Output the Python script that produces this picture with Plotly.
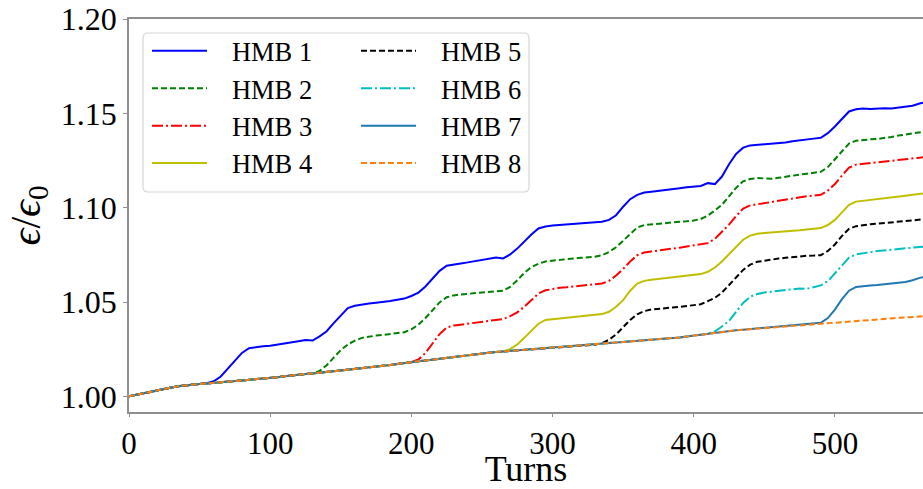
import plotly.graph_objects as go

# Turn grid shared by every curve (one sample every 5 turns)
turns = list(range(0, 566, 5))

# Slow common growth of the emittance ratio (also the HMB 8 curve)
baseline = [
    1.0000, 1.0008, 1.0016, 1.0027, 1.0035, 1.0040, 1.0047, 1.0054, 1.0059, 1.0064,
    1.0066, 1.0068, 1.0071, 1.0075, 1.0077, 1.0080, 1.0082, 1.0086, 1.0089, 1.0093,
    1.0097, 1.0101, 1.0106, 1.0111, 1.0116, 1.0119, 1.0121, 1.0125, 1.0127, 1.0131,
    1.0136, 1.0140, 1.0144, 1.0147, 1.0151, 1.0155, 1.0160, 1.0166, 1.0171, 1.0177,
    1.0181, 1.0186, 1.0190, 1.0195, 1.0199, 1.0203, 1.0209, 1.0213, 1.0218, 1.0223,
    1.0227, 1.0231, 1.0235, 1.0238, 1.0241, 1.0243, 1.0245, 1.0247, 1.0250, 1.0253,
    1.0256, 1.0259, 1.0262, 1.0265, 1.0268, 1.0271, 1.0274, 1.0277, 1.0280, 1.0283,
    1.0286, 1.0289, 1.0292, 1.0295, 1.0297, 1.0300, 1.0303, 1.0307, 1.0312, 1.0317,
    1.0322, 1.0327, 1.0332, 1.0338, 1.0343, 1.0347, 1.0350, 1.0353, 1.0356, 1.0359,
    1.0362, 1.0365, 1.0368, 1.0371, 1.0374, 1.0377, 1.0380, 1.0383, 1.0386, 1.0389,
    1.0392, 1.0395, 1.0397, 1.0400, 1.0403, 1.0405, 1.0408, 1.0411, 1.0413, 1.0416,
    1.0418, 1.0420, 1.0423, 1.0426,
]

# Each HMB curve after it leaves the common growth (runs to the last turn)
hmb1 = [
    1.0069, 1.0080, 1.0105, 1.0145, 1.0190, 1.0230, 1.0255, 1.0262, 1.0265,
    1.0268, 1.0273, 1.0279, 1.0285, 1.0292, 1.0298, 1.0296, 1.0318, 1.0345, 1.0388,
    1.0430, 1.0468, 1.0480, 1.0487, 1.0492, 1.0496, 1.0500, 1.0505, 1.0512, 1.0518,
    1.0532, 1.0550, 1.0582, 1.0625, 1.0665, 1.0692, 1.0700, 1.0704, 1.0710, 1.0716,
    1.0722, 1.0730, 1.0736, 1.0731, 1.0752, 1.0783, 1.0822, 1.0858, 1.0890, 1.0900,
    1.0905, 1.0908, 1.0910, 1.0912, 1.0914, 1.0917, 1.0922, 1.0925, 1.0935, 1.0960,
    1.1005, 1.1045, 1.1068, 1.1080, 1.1084, 1.1088, 1.1092, 1.1097, 1.1103, 1.1108,
    1.1110, 1.1115, 1.1130, 1.1125, 1.1165, 1.1230, 1.1285, 1.1318, 1.1330, 1.1333,
    1.1335, 1.1337, 1.1340, 1.1345, 1.1352, 1.1358, 1.1362, 1.1366, 1.1370, 1.1395,
    1.1430, 1.1470, 1.1510, 1.1522, 1.1525, 1.1523, 1.1526, 1.1527, 1.1526, 1.1530,
    1.1534, 1.1540, 1.1552, 1.1560,
]
hmb2 = [
    1.0122, 1.0135, 1.0165, 1.0205,
    1.0245, 1.0275, 1.0295, 1.0310, 1.0318, 1.0322, 1.0326, 1.0330, 1.0334, 1.0340,
    1.0355, 1.0380, 1.0415, 1.0458, 1.0498, 1.0525, 1.0535, 1.0540, 1.0544, 1.0548,
    1.0552, 1.0555, 1.0557, 1.0560, 1.0580, 1.0615, 1.0655, 1.0685, 1.0703, 1.0715,
    1.0720, 1.0724, 1.0728, 1.0731, 1.0734, 1.0737, 1.0740, 1.0748, 1.0765, 1.0790,
    1.0825, 1.0865, 1.0895, 1.0908, 1.0912, 1.0914, 1.0918, 1.0922, 1.0925, 1.0928,
    1.0932, 1.0940, 1.0958, 1.0985, 1.1015, 1.1060, 1.1105, 1.1140, 1.1152, 1.1157,
    1.1155, 1.1153, 1.1158, 1.1165, 1.1170, 1.1175, 1.1180, 1.1185, 1.1190, 1.1215,
    1.1255, 1.1300, 1.1340, 1.1355, 1.1360, 1.1362, 1.1364, 1.1368, 1.1375, 1.1382,
    1.1388, 1.1395, 1.1400, 1.1405,
]
hmb3 = [
    1.0182, 1.0195, 1.0230, 1.0280, 1.0330, 1.0365, 1.0375, 1.0380, 1.0385, 1.0390,
    1.0395, 1.0400, 1.0404, 1.0410, 1.0425, 1.0445, 1.0475, 1.0510, 1.0545, 1.0562,
    1.0570, 1.0575, 1.0578, 1.0582, 1.0585, 1.0588, 1.0592, 1.0598, 1.0612, 1.0640,
    1.0675, 1.0715, 1.0748, 1.0762, 1.0768, 1.0772, 1.0778, 1.0783, 1.0788, 1.0793,
    1.0798, 1.0803, 1.0812, 1.0835, 1.0870, 1.0910, 1.0955, 1.0995, 1.1012, 1.1018,
    1.1025, 1.1032, 1.1038, 1.1045, 1.1050, 1.1055, 1.1060, 1.1064, 1.1068, 1.1090,
    1.1125, 1.1170, 1.1212, 1.1228, 1.1232, 1.1235, 1.1238, 1.1242, 1.1246, 1.1250,
    1.1255, 1.1258, 1.1265, 1.1270,
]
hmb4 = [
    1.0238, 1.0250, 1.0275, 1.0310, 1.0350, 1.0385, 1.0405,
    1.0410, 1.0414, 1.0418, 1.0421, 1.0424, 1.0427, 1.0430, 1.0436, 1.0448, 1.0475,
    1.0510, 1.0560, 1.0598, 1.0612, 1.0618, 1.0622, 1.0626, 1.0630, 1.0634, 1.0638,
    1.0642, 1.0648, 1.0660, 1.0683, 1.0715, 1.0755, 1.0795, 1.0830, 1.0852, 1.0862,
    1.0866, 1.0868, 1.0870, 1.0873, 1.0876, 1.0880, 1.0884, 1.0888, 1.0892, 1.0908,
    1.0935, 1.0975, 1.1015, 1.1032, 1.1036, 1.1040, 1.1044, 1.1048, 1.1053, 1.1058,
    1.1063, 1.1068, 1.1073, 1.1078,
]
hmb5 = [
    1.0274, 1.0282, 1.0300, 1.0328,
    1.0365, 1.0405, 1.0435, 1.0452, 1.0460, 1.0465, 1.0468, 1.0471, 1.0474, 1.0478,
    1.0482, 1.0488, 1.0505, 1.0522, 1.0550, 1.0588, 1.0630, 1.0670, 1.0698, 1.0713,
    1.0720, 1.0725, 1.0730, 1.0734, 1.0738, 1.0742, 1.0745, 1.0746, 1.0748, 1.0770,
    1.0805, 1.0850, 1.0888, 1.0902, 1.0908, 1.0912, 1.0915, 1.0919, 1.0923, 1.0927,
    1.0930, 1.0934, 1.0937, 1.0940,
]
hmb6 = [
    1.0332, 1.0345, 1.0370, 1.0400, 1.0445, 1.0495, 1.0528, 1.0542,
    1.0550, 1.0555, 1.0558, 1.0562, 1.0567, 1.0572, 1.0570, 1.0578, 1.0588, 1.0610,
    1.0650, 1.0695, 1.0735, 1.0752, 1.0760, 1.0764, 1.0770, 1.0773, 1.0777, 1.0781,
    1.0785, 1.0788, 1.0792, 1.0795,
]
hmb7 = [
    1.0383, 1.0390, 1.0415,
    1.0460, 1.0515, 1.0560, 1.0580, 1.0585, 1.0587, 1.0590, 1.0594, 1.0597, 1.0601,
    1.0606, 1.0615, 1.0628, 1.0635,
]

series_names = ["HMB 1", "HMB 2", "HMB 3", "HMB 4", "HMB 5", "HMB 6", "HMB 7", "HMB 8"]
series_tails = [hmb1, hmb2, hmb3, hmb4, hmb5, hmb6, hmb7, []]
tick_turns = [0, 100, 200, 300, 400, 500]
tick_ratio = [1.00, 1.05, 1.10, 1.15, 1.20]

colors = ["#0000ff", "#008000", "#ff0000", "#bfbf00",
          "#000000", "#00bfbf", "#1f77b4", "#ff7f0e"]
DASH = "6px,3px"
DASHDOT = "11px,3px,2px,3px"
dashes = ["solid", DASH, DASHDOT, "solid", DASH, DASHDOT, "solid", DASH]

FONT = "Liberation Serif, Times New Roman, serif"
AXIS_GREY = "#8f8f8f"
GAP = "\u00a0\u00a0\u00a0"   # extra room between legend sample and its label


def full_curve(tail):
    """Common growth up to the departure turn, then the curve's own values."""
    split = len(turns) - len(tail)
    return baseline[:split] + tail


fig = go.Figure()
for k, (name, tail) in enumerate(zip(series_names, series_tails)):
    fig.add_trace(go.Scatter(
        x=turns,
        y=full_curve(tail),
        mode="lines",
        name=GAP + name,
        line=dict(color=colors[k], width=2, dash=dashes[k]),
        legend="legend" if k < 4 else "legend2",
    ))

# Plot area in pixels (used to place the legend frame)
W, H = 923, 489
ML, MR, MT, MB = 129, 0, 19, 77
PW, PH = W - ML - MR, H - MT - MB


def px_x(p):
    return (p - ML) / PW


def px_y(p):
    return (H - MB - p) / PH


# Rounded legend frame
bx0, bx1, by0, by1 = px_x(143), px_x(529), px_y(192), px_y(33)
rx, ry = 5 / PW, 5 / PH
frame = (
    f"M {bx0 + rx},{by1} L {bx1 - rx},{by1} Q {bx1},{by1} {bx1},{by1 - ry} "
    f"L {bx1},{by0 + ry} Q {bx1},{by0} {bx1 - rx},{by0} "
    f"L {bx0 + rx},{by0} Q {bx0},{by0} {bx0},{by0 + ry} "
    f"L {bx0},{by1 - ry} Q {bx0},{by1} {bx0 + rx},{by1} Z"
)

legend_common = dict(
    bgcolor="rgba(0,0,0,0)",
    borderwidth=0,
    font=dict(family=FONT, size=26.5, color="#000000"),
    itemwidth=55,
    tracegroupgap=0,
    xanchor="left",
    yanchor="top",
)

fig.update_layout(
    width=W,
    height=H,
    margin=dict(l=ML, r=MR, t=MT, b=MB, pad=0),
    paper_bgcolor="white",
    plot_bgcolor="white",
    font=dict(family=FONT, color="#000000"),
    showlegend=True,
    legend=dict(x=px_x(147), y=px_y(27), **legend_common),
    legend2=dict(x=px_x(356), y=px_y(27), **legend_common),
    shapes=[dict(
        type="path", path=frame, xref="paper", yref="paper",
        fillcolor="rgba(255,255,255,0.8)",
        line=dict(color="#d6d6d6", width=1.2),
        layer="above",
    )],
    xaxis=dict(
        range=[0, 562.4],
        tickvals=tick_turns,
        ticktext=[str(t) for t in tick_turns],
        tickfont=dict(family=FONT, size=31, color="#000000"),
        ticks="outside", ticklen=3, tickwidth=1.2, tickcolor=AXIS_GREY,
        showline=True, linecolor=AXIS_GREY, linewidth=1.5, mirror=True,
        showgrid=False, zeroline=False,
        title=dict(text="Turns", standoff=0,
                   font=dict(family=FONT, size=36, color="#000000")),
        automargin=False,
    ),
    yaxis=dict(
        range=[0.9917, 1.20],
        tickvals=tick_ratio,
        ticktext=[f"{v:.2f}" for v in tick_ratio],
        tickfont=dict(family=FONT, size=32, color="#000000"),
        ticks="outside", ticklen=4, tickwidth=1.2, tickcolor=AXIS_GREY,
        showline=True, linecolor=AXIS_GREY, linewidth=1.5,
        showgrid=False, zeroline=False,
    ),
    annotations=[
        dict(text="<i>ϵ</i>/<i>ϵ</i><sub>0</sub>", xref="paper", yref="paper",
             x=0, y=0.5, xanchor="center", yanchor="middle", xshift=-101,
             textangle=-90, showarrow=False,
             font=dict(family=FONT, size=42, color="#000000")),
    ],
)

fig.write_html("out.html")
